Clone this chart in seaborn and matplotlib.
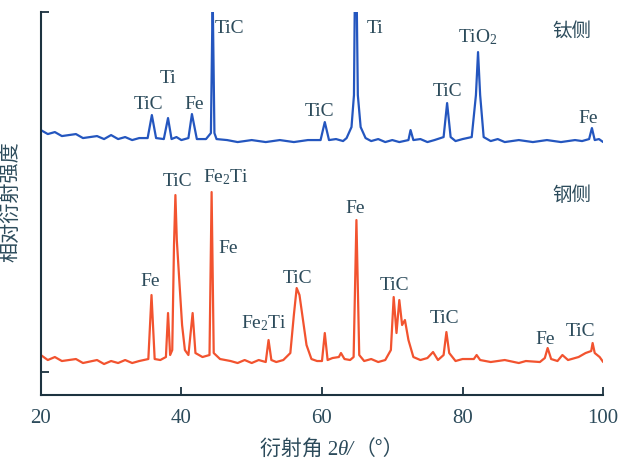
import numpy as np
import pandas as pd
import matplotlib
matplotlib.use('Agg')
import matplotlib.pyplot as plt
import seaborn as sns

# titanium side (blue), 2theta vs relative intensity
ti_x = [20, 21, 22, 23, 25, 26, 28, 29, 30, 31, 32, 33, 34, 35.2, 35.8, 36.4, 37.5, 38.1, 38.6,
        39.3, 40, 41, 41.5, 42.2, 43.5, 44.2, 44.45, 44.7, 45, 46.5, 48, 50, 52, 54, 56, 58,
        59.8, 60.4, 61, 62, 63, 63.5, 64.2, 64.55, 64.7, 64.9, 65.1, 65.5, 66.2, 67, 68, 69,
        70, 71, 72.3, 72.6, 73, 74, 75, 76, 77.3, 77.8, 78.3, 79, 80, 81.3, 81.9, 82.2, 82.5,
        83, 84, 85, 86, 88, 90, 92, 94, 96, 97, 98, 98.4, 98.8, 99.4, 100]
ti_y = [265, 261, 263, 259, 261, 257, 259, 256, 260, 256, 258, 255, 257, 257, 280, 257, 256,
        277, 256, 258, 255, 257, 281, 256, 256, 262, 400, 262, 256, 255, 253, 255, 253, 255,
        253, 255, 255, 273, 255, 256, 254, 257, 268, 300, 420, 420, 300, 268, 257, 254, 256,
        253, 255, 253, 255, 265, 255, 256, 253, 255, 258, 292, 258, 254, 256, 258, 300, 343,
        300, 258, 254, 256, 253, 255, 253, 255, 253, 255, 254, 256, 267, 255, 256, 253]

# steel side (red)
st_x = [20, 21, 22, 23, 25, 26, 28, 29, 30, 31, 32, 33, 34, 35.3, 35.75, 36.2, 37, 37.8, 38.1,
        38.4, 38.7, 38.95, 39.15, 39.35, 39.7, 40.1, 40.5, 41, 41.6, 42, 43, 44, 44.3, 44.6,
        45.5, 47, 48, 49, 50, 51, 52, 52.4, 52.8, 53.5, 54.5, 55.5, 56, 56.4, 56.8, 57.2, 57.8,
        58.5, 59.3, 60, 60.4, 60.8, 61.5, 62.4, 62.7, 63.2, 64, 64.5, 64.9, 65.3, 66, 67, 68,
        69, 69.8, 70.2, 70.6, 71, 71.4, 71.8, 72.3, 73, 74, 75, 75.8, 76.5, 77.3, 77.7, 78.1,
        79, 80, 81.6, 82, 82.5, 84, 86, 88, 89, 91, 91.7, 92.1, 92.6, 93.5, 94.2, 95, 96.5,
        97.5, 98.3, 98.5, 98.8, 99.5, 100]
st_y = [40, 35, 38, 34, 36, 32, 35, 31, 34, 32, 35, 32, 34, 36, 100, 36, 35, 38, 82,
        40, 45, 150, 200, 155, 115, 70, 45, 40, 82, 42, 38, 40, 203, 42,
        36, 34, 32, 35, 32, 35, 33, 55, 35, 33, 35, 42, 80, 107, 100, 80, 50,
        36, 34, 34, 62, 35, 37, 38, 42, 36, 35, 38, 175, 40, 34, 36, 33,
        35, 45, 98, 62, 95, 70, 75, 55, 38, 35, 37, 43, 35, 40, 63, 42,
        34, 36, 36, 40, 35, 33, 35, 32, 34, 33, 37, 47, 36, 34, 40, 35, 38,
        42, 44, 52, 42, 38, 33]

ti_labels = [('TiC', 35.3, 282), ('Ti', 38.1, 308), ('Fe', 41.8, 282), ('TiC', 46.9, 358),
             ('TiC', 59.6, 275), ('Ti', 67.5, 358), ('TiC', 77.8, 295), ('TiO$_2$', 82.2, 348),
             ('Fe', 97.8, 268)]
st_labels = [('TiC', 39.4, 205), ('Fe$_2$Ti', 46.4, 208), ('Fe', 46.6, 138), ('Fe', 35.5, 105),
             ('Fe$_2$Ti', 51.8, 62), ('TiC', 56.5, 108), ('Fe', 64.7, 178), ('TiC', 70.3, 101),
             ('TiC', 77.5, 68), ('Fe', 91.8, 47), ('TiC', 96.8, 55)]

txt_col = '#2c4b5b'
blue = '#2456bf'
red = '#f2532f'

sns.set_style('ticks')
plt.rcParams['font.family'] = ['Liberation Serif', 'Noto Sans CJK SC']
plt.rcParams['mathtext.fontset'] = 'custom'
plt.rcParams['mathtext.rm'] = 'Liberation Serif'
plt.rcParams['mathtext.it'] = 'Liberation Serif:italic'

fig = plt.figure(figsize=(6.18, 4.65), dpi=100)
ax = fig.add_axes([0.066, 0.1505, 0.91, 0.8235])

ti_df = pd.DataFrame({'2theta': ti_x, 'I': ti_y})
st_df = pd.DataFrame({'2theta': st_x, 'I': st_y})
sns.lineplot(data=ti_df, x='2theta', y='I', color=blue, linewidth=1.6, ax=ax)
sns.lineplot(data=st_df, x='2theta', y='I', color=red, linewidth=1.6, ax=ax)

for t, x, y in ti_labels:
    ax.text(x, y, t, ha='center', va='bottom', fontsize=14, color=txt_col)
for t, x, y in st_labels:
    ax.text(x, y, t, ha='center', va='bottom', fontsize=14, color=txt_col)
ax.text(95.5, 364, '钛侧', ha='center', va='center', fontsize=14, color=txt_col,
        family=['Noto Sans CJK SC'])
ax.text(95.5, 200, '钢侧', ha='center', va='center', fontsize=14, color=txt_col,
        family=['Noto Sans CJK SC'])

ax.set_xlim(20, 100)
ax.set_ylim(0, 383)
ax.set_xticks([20, 40, 60, 80, 100])
ax.set_yticks([23, 383])
ax.set_yticklabels([])
ax.tick_params(axis='both', direction='in', length=6, width=1.3, colors='#1d3340',
               labelsize=15, labelcolor=txt_col, pad=10)
sns.despine(ax=ax)
for s in ['left', 'bottom']:
    ax.spines[s].set_color('#1d3340')
    ax.spines[s].set_linewidth(1.5)

ax.set_xlabel('')
ax.set_ylabel('相对衍射强度', fontsize=14.5, color=txt_col, family=['Noto Sans CJK SC'])
ax.yaxis.set_label_coords(-0.035, 0.505)

# x label in three pieces so that only theta is italic
y_base = 0.022
t1 = fig.text(260 / 618, y_base, '衍射角 2', fontsize=15, color=txt_col, va='baseline',
              family=['Liberation Serif', 'Noto Sans CJK SC'])
t2 = ax.annotate('θ/', xy=(1, y_base), xycoords=(t1, 'figure fraction'), fontsize=15,
                 color=txt_col, va='baseline', style='italic', family=['Liberation Serif'])
t3 = ax.annotate('（°）', xy=(1, y_base), xycoords=(t2, 'figure fraction'), fontsize=15,
                 color=txt_col, va='baseline', family=['Noto Sans CJK SC'])

fig.savefig('out.png', dpi=100)
